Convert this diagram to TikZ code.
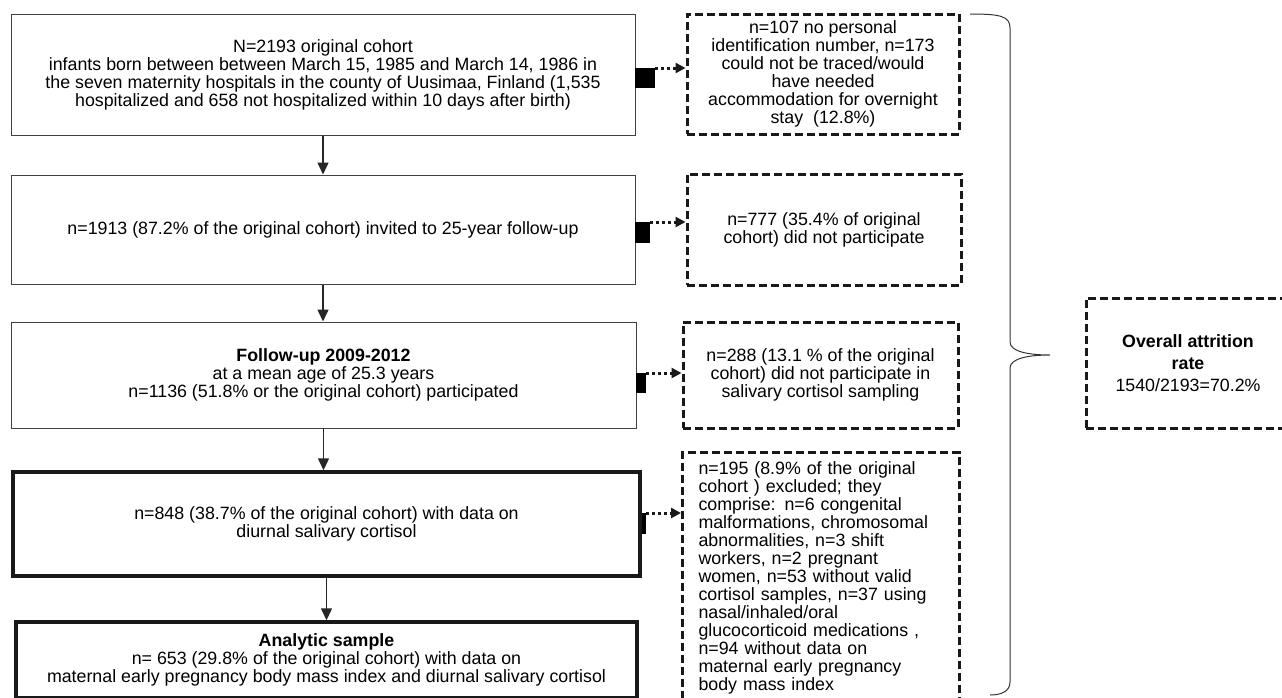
\documentclass[tikz,border=0pt]{standalone}
\usepackage{fontspec}
\setmainfont{Liberation Sans}
\usepackage{tikz}
\usetikzlibrary{arrows.meta}
\tikzstyle{box}=[draw=black!75, line width=1pt, inner sep=0pt, align=center, font=\fontsize{17.8}{18}\selectfont]
\tikzstyle{boxthick}=[box, draw=black!90, line width=3.5pt]
\tikzstyle{boxdash}=[draw=black!90, line width=3pt, dash pattern=on 8pt off 4pt, inner sep=0pt, align=center, font=\fontsize{17.8}{18}\selectfont]
\tikzstyle{marker}=[fill=black, inner sep=0pt, anchor=north west]
\tikzstyle{flow}=[-{Triangle[length=12pt,width=11pt]}, line width=1.5pt, black!85]
\tikzstyle{side}=[-{Triangle[length=10pt,width=10pt]}, line width=3pt, dash pattern=on 3pt off 3pt, black!90]

\begin{document}
\begin{tikzpicture}[x=1pt, y=-1pt]
		   \useasboundingbox (0, 0) rectangle (1282, 697);
		   \begin{scope}
			   \node (0) at (323, 74.5)[box, minimum width=624pt, minimum height=121pt] {N=2193 original cohort\\infants born between between March 15, 1985 and March 14, 1986 in\\the seven maternity hospitals in the county of Uusimaa, Finland (1,535\\hospitalized and 658 not hospitalized within 10 days after birth)};
			   \node (1) at (323, 229.5)[box, minimum width=624pt, minimum height=109pt] {n=1913 (87.2\% of the original cohort) invited to 25-year follow-up};
			   \node (2) at (323.5, 375)[box, minimum width=625pt, minimum height=106pt] {\textbf{Follow-up 2009-2012}\\at a mean age of 25.3 years\\n=1136 (51.8\% or the original cohort) participated};
			   \node (3) at (326.5, 524)[boxthick, minimum width=627pt, minimum height=104pt] {n=848 (38.7\% of the original cohort) with data on\\diurnal salivary cortisol};
			   \node (4) at (326.5, 660)[boxthick, minimum width=621pt, minimum height=76pt] {\textbf{Analytic sample}\\n= 653 (29.8\% of the original cohort) with data on\\maternal early pregnancy body mass index and diurnal salivary cortisol};

			   \node (x0) at (823, 74)[boxdash, minimum width=272pt, minimum height=120pt] {n=107 no personal\\identification number, n=173\\could not be traced/would\\have needed\\accommodation for overnight\\stay\ \ (12.8\%)};
			   \node (x1) at (824, 229.5)[boxdash, minimum width=274pt, minimum height=111pt] {n=777 (35.4\% of original\\cohort) did not participate};
			   \node (x2) at (820.5, 375)[boxdash, minimum width=275pt, minimum height=106pt] {n=288 (13.1 \% of the original\\cohort) did not participate in\\salivary cortisol sampling};
			   \node (x3) at (681, 451)[boxdash, anchor=north west, text width=245pt, align=left, inner xsep=16pt, inner ysep=9.5pt] {n=195 (8.9\% of the original\\cohort ) excluded; they\\comprise: n=6 congenital\\malformations, chromosomal\\abnormalities, n=3 shift\\workers, n=2 pregnant\\women, n=53 without valid\\cortisol samples, n=37 using\\nasal/inhaled/oral\\glucocorticoid medications ,\\n=94 without data on\\maternal early pregnancy\\body mass index};

			   \node (t) at (1188, 363)[boxdash, minimum width=204pt, minimum height=130pt, font=\fontsize{17.8}{22}\selectfont] {\textbf{Overall attrition}\\\textbf{rate}\\1540/2193=70.2\%};

			   \node (m0) at (635, 68)[marker, minimum width=20pt, minimum height=20pt] {};
			   \node (m1) at (635, 222)[marker, minimum width=15pt, minimum height=21pt] {};
			   \node (m2) at (636, 373)[marker, minimum width=10pt, minimum height=20pt] {};
			   \node (m3) at (642, 513)[marker, minimum width=4pt, minimum height=21pt] {};
		   \end{scope}
		   \begin{scope}
			   \path [flow] (0.south) edge (0.south |- 1.north);
			   \path [flow] (1.south) edge (1.south |- 2.north);
			   \path [flow] (2.south) edge (2.south |- 3.north);
			   \path [flow] (3.south) edge (3.south |- 4.north);

			   \path [side] (m0.north east) edge (m0.north east -| x0.west);
			   \path [side] (m1.north east) edge (m1.north east -| x1.west);
			   \path [side] (m2.north east) edge (m2.north east -| x2.west);
			   \path [side] (m3.north east) edge (m3.north east -| x3.west);

			   \draw [line width=1pt, black!80] (970, 14) .. controls (1000, 14) and (1010, 16) .. (1010, 28) -- (1010, 342) .. controls (1010, 352) and (1030, 355) .. (1050, 355) .. controls (1030, 355) and (1010, 358) .. (1010, 368) -- (1010, 682) .. controls (1010, 692) and (1000, 695) .. (990, 695);
		   \end{scope}
\end{tikzpicture}
\end{document}
